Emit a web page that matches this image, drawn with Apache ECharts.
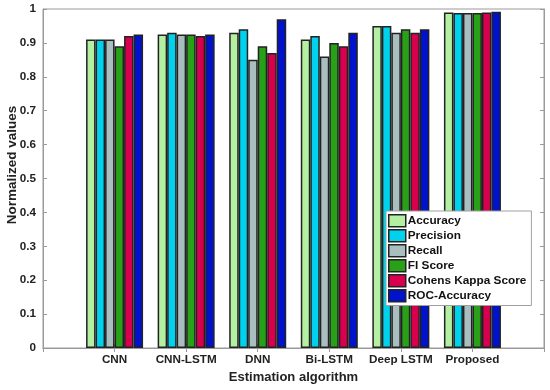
<!DOCTYPE html>
<html><head><meta charset="utf-8">
<script src="https://cdn.jsdelivr.net/npm/echarts@6/dist/echarts.min.js"></script>
<style>html,body{margin:0;padding:0;background:#fff}#c{width:550px;height:390px}</style>
</head><body><div id="c"></div>
<script>
const categories = ['', 'CNN', 'CNN-LSTM', 'DNN', 'Bi-LSTM', 'Deep LSTM', 'Proposed', ''];
const seriesNames = ['Accuracy', 'Precision', 'Recall', 'FI Score', 'Cohens Kappa Score', 'ROC-Accuracy'];
const accuracy  = [null, 0.91, 0.925, 0.93, 0.91, 0.95, 0.99, null];
const precision = [null, 0.91, 0.93, 0.94, 0.92, 0.95, 0.988, null];
const recall    = [null, 0.91, 0.925, 0.85, 0.86, 0.93, 0.988, null];
const f1Score   = [null, 0.89, 0.925, 0.89, 0.90, 0.94, 0.988, null];
const kappa     = [null, 0.92, 0.92, 0.87, 0.89, 0.93, 0.99, null];
const rocAcc    = [null, 0.925, 0.925, 0.97, 0.93, 0.94, 0.992, null];
const yTicks = [0, 0.1, 0.2, 0.3, 0.4, 0.5, 0.6, 0.7, 0.8, 0.9, 1];
const yAxisTitle = 'Normalized values';
const colors = ['#b4f0a2', '#00d2ee', '#a9bfbf', '#28a018', '#d8004e', '#0012cc'];
const allData = [accuracy, precision, recall, f1Score, kappa, rocAcc];

const font = 'Liberation Sans, Arial, sans-serif';
const axisColor = '#9a9a9a';
const chart = echarts.init(document.getElementById('c'));
chart.setOption({
  animation: false,
  color: colors,
  grid: {left: 43, right: 6, top: 9, bottom: 42, containLabel: false, outerBoundsMode: 'none',
    show: true, borderColor: axisColor, borderWidth: 1, backgroundColor: 'transparent'},
  graphic: [{
    type: 'text', x: 12, y: 165, rotation: Math.PI / 2,
    style: {text: yAxisTitle, fontFamily: font, fontWeight: 'bold', fontSize: 13.5, fill: '#222',
      align: 'center', verticalAlign: 'middle'}
  }],
  xAxis: [{
    type: 'category', data: categories, boundaryGap: false,
    name: 'Estimation algorithm', nameLocation: 'middle', nameGap: 23,
    nameTextStyle: {fontFamily: font, fontWeight: 'bold', fontSize: 13, color: '#222'},
    axisLine: {lineStyle: {color: axisColor}},
    axisTick: {inside: true, length: 4, lineStyle: {color: axisColor}, interval: 0},
    axisLabel: {interval: 0, fontFamily: font, fontWeight: 'bold', fontSize: 11.7, color: '#222', margin: 6},
    splitLine: {show: false}
  }, {
    type: 'category', data: categories, boundaryGap: false, position: 'top', gridIndex: 0,
    axisLine: {show: true, lineStyle: {color: axisColor}},
    axisTick: {show: true, inside: true, length: 4, lineStyle: {color: axisColor}, interval: 0},
    axisLabel: {show: false}
  }],
  yAxis: [{
    type: 'value', min: 0, max: 1, interval: 0.1,
    axisLine: {show: true, lineStyle: {color: axisColor}},
    axisTick: {show: true, inside: true, length: 4, lineStyle: {color: axisColor}},
    axisLabel: {fontFamily: font, fontWeight: 'bold', fontSize: 11.7, color: '#222', margin: 7,
      formatter: v => { const t = yTicks.find(x => Math.abs(x - v) < 1e-9); return t === undefined ? '' : String(+t.toFixed(1)); }},
    splitLine: {show: false}
  }, {
    type: 'value', min: 0, max: 1, interval: 0.1, position: 'right',
    axisLine: {show: true, lineStyle: {color: axisColor}},
    axisTick: {show: true, inside: true, length: 4, lineStyle: {color: axisColor}},
    axisLabel: {show: false}, splitLine: {show: false}
  }],
  legend: {
    orient: 'vertical', left: 386, top: 211,
    itemWidth: 17, itemHeight: 12, itemGap: 1.5,
    backgroundColor: '#fff', borderColor: '#a0a0a0', borderWidth: 1,
    padding: [3, 5, 3, 2],
    icon: 'rect',
    itemStyle: {borderColor: '#222', borderWidth: 1.5},
    textStyle: {fontFamily: font, fontWeight: 'bold', fontSize: 11.8, color: '#111', padding: [0, 0, 0, -3]},
    data: seriesNames
  },
  series: seriesNames.map((n, i) => ({
    name: n, type: 'bar', data: allData[i],
    barWidth: 9.5, barGap: '0%',
    itemStyle: {color: colors[i], borderColor: '#222', borderWidth: 1.5}
  }))
});
</script></body></html>
